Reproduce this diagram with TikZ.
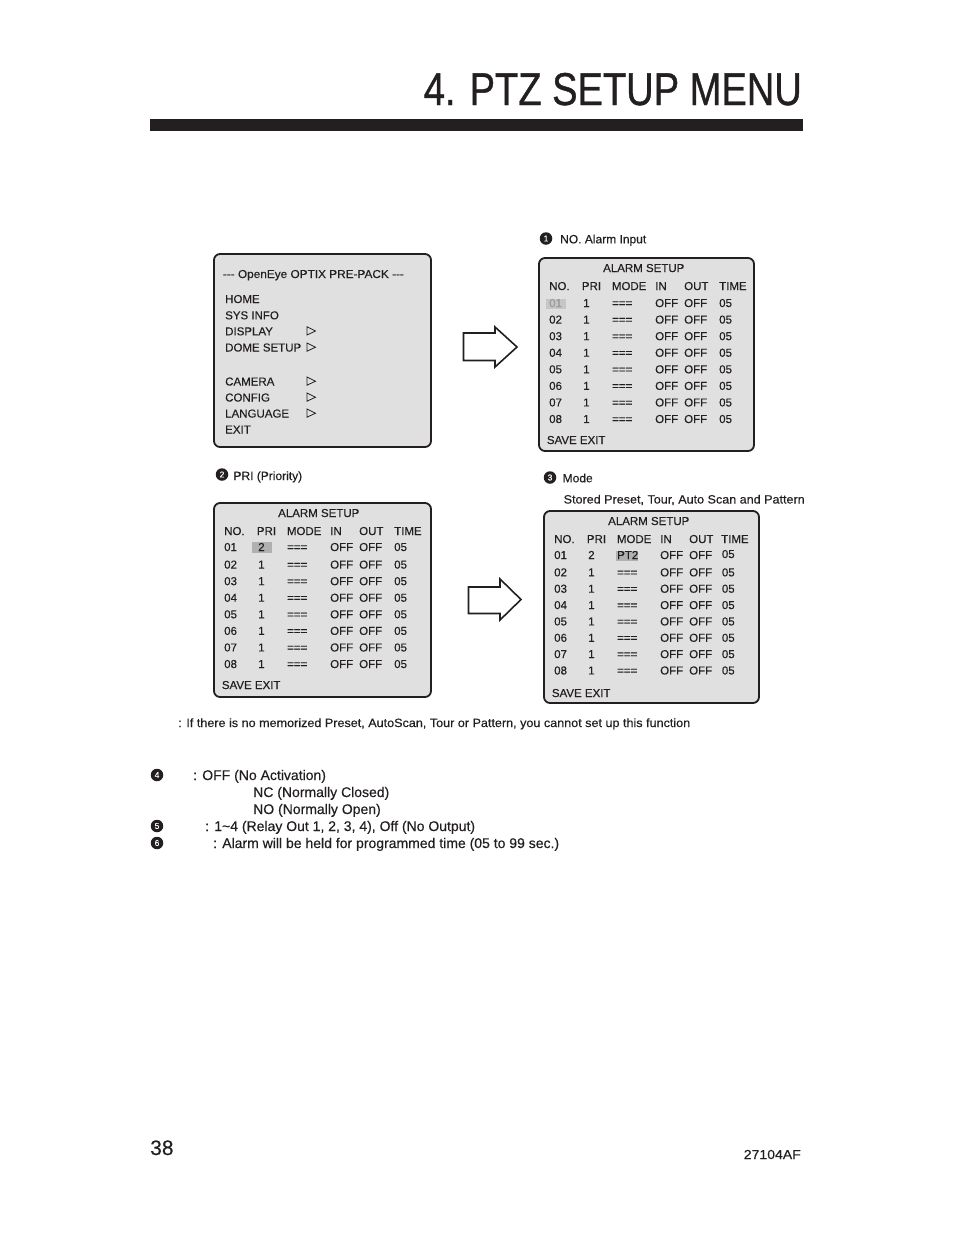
\documentclass[tikz,border=0pt]{standalone}
\usepackage{fontspec}
\setmainfont{Liberation Sans}[FakeBold=0.3]
\newfontfamily\titlefont[FakeBold=0.9]{Liberation Sans}
\usepackage{graphicx}
\definecolor{ink}{HTML}{231F20}
\definecolor{panel}{HTML}{E0E0E0}
\definecolor{hlA}{HTML}{C6C6C6}
\definecolor{hlB}{HTML}{B0B0B0}
\definecolor{dimtext}{HTML}{9A9A9A}
% #1 prefix, #2 row separation, #3 TIME header x, #4 time value x
\newcommand{\AlarmRows}[4]{%
  \node[boxtxt] (#1title) at (64,14) {ALARM SETUP};
  \foreach \h/\hx [count=\k] in {NO./10,PRI/42.7,MODE/72.7,IN/116,OUT/145,TIME/#3}
    \node[boxtxt] (#1h\k) at (\hx,32) {\h};
  \foreach \r in {2,...,8} {
    \pgfmathsetmacro\yy{49+(\r-1)*#2}
    \node[boxtxt] (#1n\r) at (10,\yy) {0\r};
    \node[boxtxt] (#1p\r) at (44,\yy) {1};
    \node[boxtxt] (#1m\r) at (73,\yy) {===};
    \node[boxtxt] (#1i\r) at (116,\yy) {OFF};
    \node[boxtxt] (#1o\r) at (145,\yy) {OFF};
    \node[boxtxt] (#1t\r) at (#4,\yy) {05};
  }
  \node[boxtxt] (#1save) at (7.7,186) {SAVE EXIT};
}
\begin{document}
\begin{tikzpicture}[x=1pt,y=-1pt,
  panelbox/.style={draw=ink,line width=1.8pt,fill=panel,rounded corners=6pt},
  boxtxt/.style={anchor=base west,inner sep=0pt,font=\fontsize{11.5}{13}\selectfont,text=ink},
  capt/.style={anchor=base west,inner sep=0pt,font=\fontsize{12}{14}\selectfont,text=ink},
  bodytxt/.style={anchor=base west,inner sep=0pt,font=\fontsize{14}{16}\selectfont,text=ink},
  cnum/.style={circle,fill=ink,text=white,inner sep=0pt,minimum size=12.5pt,font=\fontsize{8.5}{9}\selectfont},
  tri/.style={draw=ink,line width=0.8pt,line join=miter},
  bigarrow/.style={draw=ink,line width=1.6pt,fill=white,line join=miter},
]
\useasboundingbox (0,0) rectangle (954,1235);
\fill[white] (0,0) rectangle (954,1235);

% title and bar
\node[anchor=base east,inner sep=0pt,font=\fontsize{46}{50}\titlefont,text=ink] (title) at (802,105)
  {\resizebox{378pt}{\height}{4. PTZ SETUP MENU}};
\fill[ink] (150,119) rectangle (803,131);

% main menu box
\draw[panelbox] (214,254) rectangle (431,447);
\node[boxtxt] (mhead) at (222.7,278) {\resizebox{181pt}{\height}{-{}-{}- OpenEye OPTIX PRE-PACK -{}-{}-}};
\foreach \lab/\yy [count=\k] in {HOME/303,SYS INFO/319.3,DISPLAY/335.3,DOME SETUP/351.5,CAMERA/385.5,CONFIG/401.5,LANGUAGE/417.5,EXIT/433.5}
  \node[boxtxt] (mi\k) at (225,\yy) {\lab};
\foreach \yy in {335.3,351.5,385.5,401.5,417.5}
  \draw[tri] (307,\yy-8.5) -- (315.5,\yy-4.3) -- (307,\yy-0.3) -- cycle;

% box 1 (top right)
\node[cnum] (c1) at (546,238.5) {1};
\node[capt] (l1) at (560,243.3) {NO. Alarm Input};
\draw[panelbox] (539,258) rectangle (754,451);
\begin{scope}[shift={(539,258)}]
  \AlarmRows{a}{16.57}{180}{180}
  \fill[hlA] (6.5,40.5) rectangle (27,50.5);
  \node[boxtxt,text=dimtext] (an1) at (10,49) {01};
  \node[boxtxt] (ap1) at (44,49) {1};
  \node[boxtxt] (am1) at (73,49) {===};
  \node[boxtxt] (ai1) at (116,49) {OFF};
  \node[boxtxt] (ao1) at (145,49) {OFF};
  \node[boxtxt] (at1) at (180,49) {05};
\end{scope}

% box 2 (bottom left)
\node[cnum] (c2) at (222,474.5) {2};
\node[capt] (l2) at (233.3,480) {PRI (Priority)};
\draw[panelbox] (214,503) rectangle (431,697);
\begin{scope}[shift={(214,503)}]
  \AlarmRows{b}{16.57}{180}{180}
  \fill[hlB] (38,39) rectangle (57.5,49.5);
  \node[boxtxt] (bn1) at (10,48) {01};
  \node[boxtxt] (bp1) at (44,48) {2};
  \node[boxtxt] (bm1) at (73,48) {===};
  \node[boxtxt] (bi1) at (116,48) {OFF};
  \node[boxtxt] (bo1) at (145,48) {OFF};
  \node[boxtxt] (bt1) at (180,48) {05};
\end{scope}

% box 3 (bottom right)
\node[cnum] (c3) at (550,477.5) {3};
\node[capt] (l3) at (562.5,482.3) {Mode};
\node[capt] (l3b) at (563.5,503.5) {\resizebox{241pt}{\height}{Stored Preset, Tour, Auto Scan and Pattern}};
\draw[panelbox] (544,511) rectangle (759,703);
\begin{scope}[shift={(544,511)}]
  \AlarmRows{c}{16.35}{177}{177.7}
  \fill[hlB] (72,40) rectangle (94.3,49.5);
  \node[boxtxt] (cn1) at (10,48) {01};
  \node[boxtxt] (cp1) at (44,48) {2};
  \node[boxtxt] (cm1) at (73,48) {PT2};
  \node[boxtxt] (ci1) at (116,48) {OFF};
  \node[boxtxt] (co1) at (145,48) {OFF};
  \node[boxtxt] (ct1) at (177.7,47) {05};
\end{scope}

% block arrows
\draw[bigarrow] (463.5,333) -- (495,333) -- (495,327) -- (517,347) -- (495,367) -- (495,360.5) -- (463.5,360.5) -- cycle;
\draw[bigarrow] (468.5,587) -- (500,587) -- (500,579) -- (521,599.5) -- (500,620) -- (500,613.5) -- (468.5,613.5) -- cycle;

% notes
\node[capt] (note) at (178,727) {\resizebox{512pt}{\height}{: If there is no memorized Preset, AutoScan, Tour or Pattern, you cannot set up this function}};

\node[cnum] (c4) at (157,775) {4};
\node[bodytxt] (t4a) at (193,780) {: OFF (No Activation)};
\node[bodytxt] (t4b) at (253,797) {NC (Normally Closed)};
\node[bodytxt] (t4c) at (253,814) {NO (Normally Open)};
\node[cnum] (c5) at (157,826) {5};
\node[bodytxt] (t5) at (205,831) {: 1\textasciitilde4 (Relay Out 1, 2, 3, 4), Off (No Output)};
\node[cnum] (c6) at (157,843) {6};
\node[bodytxt] (t6) at (213,848) {: Alarm will be held for programmed time (05 to 99 sec.)};

% footer
\node[anchor=base west,inner sep=0pt,font=\fontsize{21}{24}\selectfont,text=ink] (pg) at (150,1155) {38};
\node[anchor=base east,inner sep=0pt,font=\fontsize{13}{15}\selectfont,text=ink] (code) at (801,1159) {\resizebox{57pt}{\height}{27104AF}};
\end{tikzpicture}
\end{document}
